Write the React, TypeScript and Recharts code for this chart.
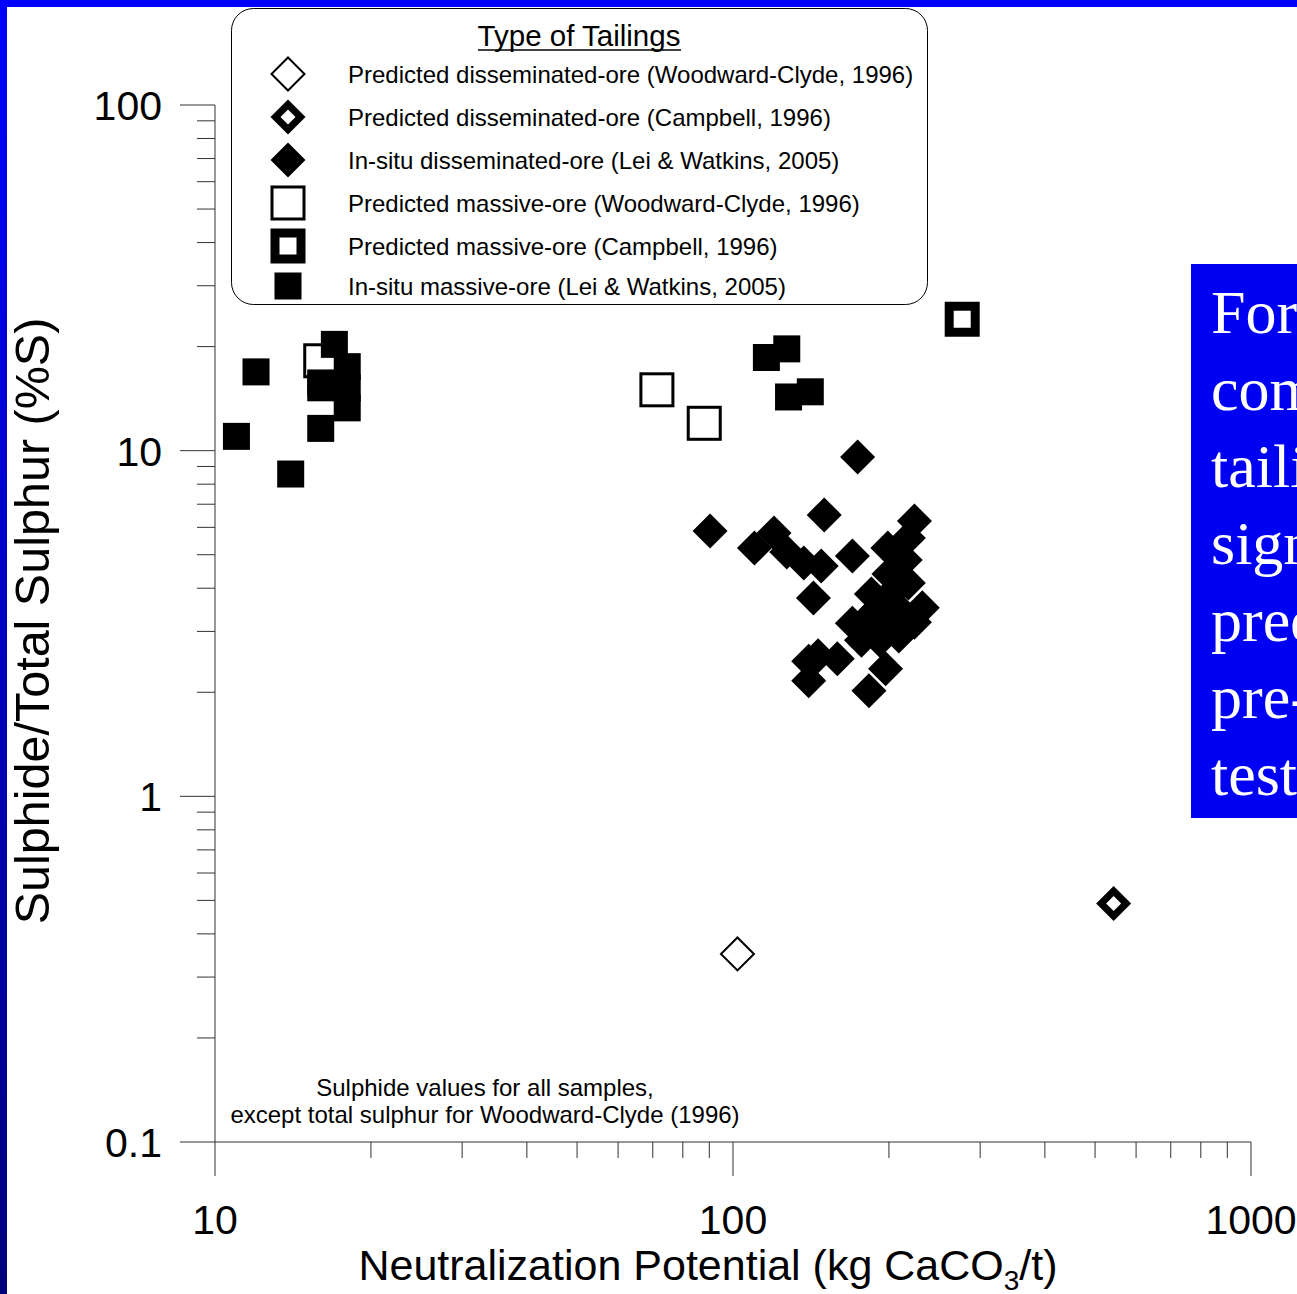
import React from "react"
import { ScatterChart, Scatter, XAxis, YAxis, Legend } from "recharts"

// axis ticks (log scales)
const xTicks = [10, 20, 30, 40, 50, 60, 70, 80, 90, 100, 200, 300, 400, 500, 600, 700, 800, 900, 1000]
const xMajor = [10, 100, 1000]
const yTicks = [
  0.1, 0.2, 0.3, 0.4, 0.5, 0.6, 0.7, 0.8, 0.9,
  1, 2, 3, 4, 5, 6, 7, 8, 9,
  10, 20, 30, 40, 50, 60, 70, 80, 90, 100,
]
const yMajor = [0.1, 1, 10, 100]

// NP (kg CaCO3/t) vs sulphide (%S)
const dissWoodward = [{ x: 102, y: 0.35 }]
const dissCampbell = [{ x: 543, y: 0.49 }]
const dissInSitu = [
  { x: 90.3, y: 5.86 }, { x: 110, y: 5.23 }, { x: 120, y: 5.78 }, { x: 127, y: 5.09 },
  { x: 137, y: 4.73 }, { x: 148, y: 4.64 }, { x: 150, y: 6.52 }, { x: 143, y: 3.75 },
  { x: 174, y: 9.59 }, { x: 170, y: 4.96 }, { x: 199, y: 5.23 }, { x: 224, y: 6.26 },
  { x: 218, y: 5.59 }, { x: 200, y: 4.4 }, { x: 218, y: 4.14 }, { x: 185, y: 3.85 },
  { x: 232, y: 3.51 }, { x: 170, y: 3.17 }, { x: 181, y: 3.24 }, { x: 199, y: 3.7 },
  { x: 210, y: 3.46 }, { x: 192, y: 2.83 }, { x: 209, y: 2.91 }, { x: 224, y: 3.19 },
  { x: 197, y: 2.34 }, { x: 183, y: 2.02 }, { x: 146, y: 2.55 }, { x: 140, y: 2.46 },
  { x: 159, y: 2.5 }, { x: 140, y: 2.16 }, { x: 184, y: 3.03 }, { x: 205, y: 3.95 },
  { x: 215, y: 4.83 }, { x: 189, y: 3.46 }, { x: 177, y: 2.83 }, { x: 201, y: 3.19 },
]
const massWoodward = [{ x: 16.0, y: 18.2 }, { x: 71.3, y: 15.0 }, { x: 88.0, y: 12.0 }]
const massCampbell = [{ x: 277, y: 24.0 }]
const massInSitu = [
  { x: 12.0, y: 16.9 }, { x: 11.0, y: 11.0 }, { x: 14.0, y: 8.56 }, { x: 16.0, y: 11.6 },
  { x: 16.0, y: 15.7 }, { x: 16.0, y: 15.2 }, { x: 17.0, y: 20.3 }, { x: 18.0, y: 17.5 },
  { x: 18.0, y: 15.2 }, { x: 18.0, y: 13.3 }, { x: 116, y: 18.6 }, { x: 127, y: 19.7 },
  { x: 128, y: 14.3 }, { x: 141, y: 14.8 },
]

const font = '"Liberation Sans", Arial, sans-serif'
const axisColor = "#333"

const pts = (cx: number, cy: number, r: number) =>
  `${cx},${cy - r} ${cx + r},${cy} ${cx},${cy + r} ${cx - r},${cy}`

const OpenDiamond = ({ cx, cy }: any) => (
  <polygon points={pts(cx, cy, 16.5)} fill="#fff" stroke="#000" strokeWidth={2} />
)
const RingDiamond = ({ cx, cy }: any) => (
  <g>
    <polygon points={pts(cx, cy, 17.5)} fill="#000" />
    <polygon points={pts(cx, cy, 7.5)} fill="#fff" />
  </g>
)
const FilledDiamond = ({ cx, cy }: any) => <polygon points={pts(cx, cy, 17.5)} fill="#000" />
const OpenSquare = ({ cx, cy }: any) => (
  <rect x={cx - 16} y={cy - 16} width={32} height={32} fill="#fff" stroke="#000" strokeWidth={3} />
)
const RingSquare = ({ cx, cy }: any) => (
  <g>
    <rect x={cx - 17.5} y={cy - 17.5} width={35} height={35} fill="#000" />
    <rect x={cx - 8.5} y={cy - 8.5} width={17} height={17} fill="#fff" />
  </g>
)
const FilledSquare = ({ cx, cy }: any) => (
  <rect x={cx - 13.5} y={cy - 13.5} width={27} height={27} fill="#000" />
)

const legendItems = [
  { name: "Predicted disseminated-ore (Woodward-Clyde, 1996)", Shape: OpenDiamond },
  { name: "Predicted disseminated-ore (Campbell, 1996)", Shape: RingDiamond },
  { name: "In-situ disseminated-ore (Lei & Watkins, 2005)", Shape: FilledDiamond },
  { name: "Predicted massive-ore (Woodward-Clyde, 1996)", Shape: OpenSquare },
  { name: "Predicted massive-ore (Campbell, 1996)", Shape: RingSquare },
  { name: "In-situ massive-ore (Lei & Watkins, 2005)", Shape: FilledSquare },
]
const legendRows = [66, 109, 152, 195, 238, 278]

function LegendBox() {
  return (
    <svg width={698} height={299} style={{ display: "block", fontFamily: font }}>
      <rect x={0.5} y={0.5} width={696} height={296} rx={22} fill="#fff" stroke="#000" />
      <text x={348} y={38} textAnchor="middle" fontSize={29.5}>Type of Tailings</text>
      <line x1={247} x2={450} y1={42} y2={42} stroke="#000" strokeWidth={1.5} />
      {legendItems.map((it, i) => (
        <g key={it.name}>
          <it.Shape cx={57} cy={legendRows[i]} />
          <text x={117} y={legendRows[i] + 8.5} fontSize={24}>{it.name}</text>
        </g>
      ))}
    </svg>
  )
}

function XTick({ x, y, payload }: any) {
  const major = xMajor.includes(payload.value)
  return (
    <g>
      <line x1={x} x2={x} y1={y} y2={y + (major ? 34 : 16)} stroke={axisColor} />
      {major && (
        <text x={x} y={y + 92} textAnchor="middle" fontSize={41} fill="#000" fontFamily={font}>
          {payload.value}
        </text>
      )}
    </g>
  )
}

function YTick({ x, y, payload }: any) {
  const major = yMajor.includes(payload.value)
  return (
    <g>
      <line x1={x - (major ? 35 : 18)} x2={x} y1={y} y2={y} stroke={axisColor} />
      {major && (
        <text x={x - 53} y={y + 15} textAnchor="end" fontSize={41} fill="#000" fontFamily={font}>
          {payload.value}
        </text>
      )}
    </g>
  )
}

function XTitle() {
  return (
    <text x={708} y={1280} textAnchor="middle" fontSize={43} fill="#000" fontFamily={font}>
      Neutralization Potential (kg CaCO
      <tspan fontSize={28} dy={10}>3</tspan>
      <tspan dy={-10}>/t)</tspan>
    </text>
  )
}

function YTitle() {
  return (
    <text
      transform="translate(49,621) rotate(-90)"
      textAnchor="middle"
      fontSize={48.5}
      fill="#000"
      fontFamily={font}
    >
      Sulphide/Total Sulphur (%S)
    </text>
  )
}

const sideLines = ["For", "comparison,", "tailings", "significantly", "predicted", "pre-mining", "testing"]

export default function App() {
  return (
    <div
      style={{
        position: "absolute",
        left: 0,
        top: 0,
        width: 1297,
        height: 1294,
        overflow: "hidden",
        background: "linear-gradient(to bottom, #0000ff, #00007c)",
        fontFamily: font,
      }}
    >
      <div style={{ position: "absolute", left: 7, top: 7, right: 0, bottom: 0, background: "#fff" }} />
      <div style={{ position: "absolute", left: 0, top: 0 }}>
        <ScatterChart width={1297} height={1294} margin={{ top: 105, right: 46, bottom: 92, left: 115 }}>
          <XAxis
            type="number"
            dataKey="x"
            scale="log"
            domain={[10, 1000]}
            ticks={xTicks}
            interval={0}
            height={60}
            tickSize={0}
            tickMargin={0}
            tickLine={false}
            tick={<XTick />}
            axisLine={{ stroke: axisColor }}
            label={<XTitle />}
          />
          <YAxis
            type="number"
            dataKey="y"
            scale="log"
            domain={[0.1, 100]}
            ticks={yTicks}
            interval={0}
            width={100}
            tickSize={0}
            tickMargin={0}
            tickLine={false}
            tick={<YTick />}
            axisLine={{ stroke: axisColor }}
            label={<YTitle />}
          />
          <Legend
            layout="vertical"
            align="center"
            verticalAlign="middle"
            content={() => <LegendBox />}
            wrapperStyle={{ left: 231, top: 8, width: 698, height: 299 }}
          />
          <Scatter name="In-situ disseminated-ore" data={dissInSitu} shape={FilledDiamond} isAnimationActive={false} />
          <Scatter name="Predicted disseminated-ore WC" data={dissWoodward} shape={OpenDiamond} isAnimationActive={false} />
          <Scatter name="Predicted disseminated-ore Campbell" data={dissCampbell} shape={RingDiamond} isAnimationActive={false} />
          <Scatter name="Predicted massive-ore WC" data={massWoodward} shape={OpenSquare} isAnimationActive={false} />
          <Scatter name="Predicted massive-ore Campbell" data={massCampbell} shape={RingSquare} isAnimationActive={false} />
          <Scatter name="In-situ massive-ore" data={massInSitu} shape={FilledSquare} isAnimationActive={false} />
        </ScatterChart>
      </div>
      <svg
        width={1297}
        height={1294}
        style={{ position: "absolute", left: 0, top: 0, pointerEvents: "none" }}
      >
        <text x={485} y={1096} textAnchor="middle" fontSize={24} fontFamily={font}>
          Sulphide values for all samples,
        </text>
        <text x={485} y={1123} textAnchor="middle" fontSize={24} fontFamily={font}>
          except total sulphur for Woodward-Clyde (1996)
        </text>
      </svg>
      <div
        style={{
          position: "absolute",
          left: 1191,
          top: 264,
          width: 200,
          height: 554,
          background: "#0000f2",
          color: "#fff",
          fontFamily: '"Liberation Serif", "Times New Roman", serif',
          fontSize: 62,
          lineHeight: "77px",
          paddingLeft: 20,
          paddingTop: 10,
          boxSizing: "border-box",
          whiteSpace: "nowrap",
        }}
      >
        {sideLines.map((l) => (
          <div key={l}>{l}</div>
        ))}
      </div>
    </div>
  )
}
